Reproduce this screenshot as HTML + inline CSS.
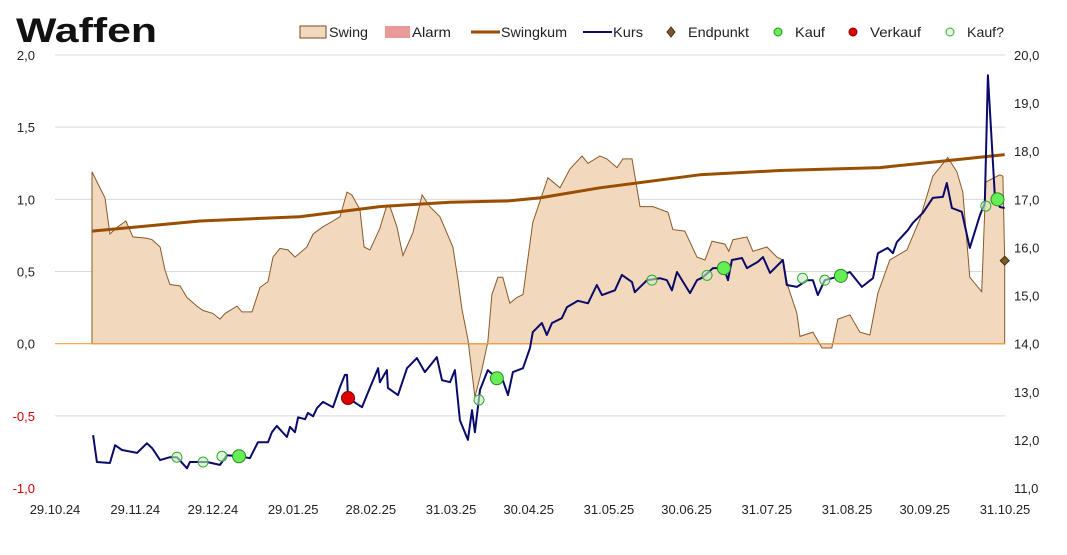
<!DOCTYPE html>
<html><head><meta charset="utf-8">
<style>
body{margin:0;background:#fff;}
svg{display:block;font-family:"Liberation Sans",sans-serif;}
</style></head>
<body>
<svg id="chart" width="1067" height="555" viewBox="0 0 1067 555" xmlns="http://www.w3.org/2000/svg">
<text x="16" y="42" font-size="34" font-weight="bold" fill="#111" textLength="141" lengthAdjust="spacingAndGlyphs">Waffen</text>
<g id="legend" font-size="14" fill="#222">
  <g><rect x="300" y="26" width="26" height="12" fill="#f2d8bd" stroke="#7a4a1a"/><text x="329" y="37" textLength="39" lengthAdjust="spacingAndGlyphs">Swing</text></g>
  <g><rect x="385" y="26" width="25" height="12" fill="#e89a9a"/><text x="412" y="37" textLength="39" lengthAdjust="spacingAndGlyphs">Alarm</text></g>
  <g><line x1="471" y1="32" x2="500" y2="32" stroke="#9a4e00" stroke-width="3"/><text x="501" y="37" textLength="66" lengthAdjust="spacingAndGlyphs">Swingkum</text></g>
  <g><line x1="583" y1="32" x2="612" y2="32" stroke="#0a0a6a" stroke-width="2"/><text x="613" y="37" textLength="30" lengthAdjust="spacingAndGlyphs">Kurs</text></g>
  <g><path d="M671,27 L675,32 L671,37 L667,32Z" fill="#7a5a2a" stroke="#4a2a0a"/><text x="688" y="37" textLength="61" lengthAdjust="spacingAndGlyphs">Endpunkt</text></g>
  <g><circle cx="778" cy="32" r="4" fill="#66ee55" stroke="#2a8a2a"/><text x="795" y="37" textLength="30" lengthAdjust="spacingAndGlyphs">Kauf</text></g>
  <g><circle cx="853" cy="32" r="4" fill="#e00000" stroke="#800"/><text x="870" y="37" textLength="51" lengthAdjust="spacingAndGlyphs">Verkauf</text></g>
  <g><circle cx="950" cy="32" r="4" fill="#e8f8e0" stroke="#33aa33"/><text x="967" y="37" textLength="37" lengthAdjust="spacingAndGlyphs">Kauf?</text></g>
</g>
<g id="grid"></g>
<g id="axes"></g>
<g id="series"></g>
</svg>
<script>
const xTickLabels=["29.10.24","29.11.24","29.12.24","29.01.25","28.02.25","31.03.25","30.04.25","31.05.25","30.06.25","31.07.25","31.08.25","30.09.25","31.10.25"];
const xTickDays=[0,31,61,92,122,153,183,214,244,275,306,336,367];
const leftTicks=[-1,-0.5,0,0.5,1,1.5,2];
const rightTicks=[11,12,13,14,15,16,17,18,19,20];
const swingDays=[14.3,14.3,19.3,21.2,24.3,27.4,30.1,35.5,37.5,40.6,42.5,44.4,48.3,51,54.8,57.2,61,63.7,65.7,70.3,72.2,76.1,79.2,82.3,84.2,86.9,90,92.7,97.3,99.7,103.5,107.4,110.1,112.8,114.7,117.8,119.4,121.7,125.5,128.2,129.4,132.1,134.4,138.3,141.8,144.8,148.7,153.7,155.7,157.2,159.5,162.2,164.9,167.2,168.8,171.1,173,175.7,178.4,180.8,184.6,190.4,195.1,198.9,203.6,205.9,210.5,213.2,217.1,219.4,222.9,226,231,236.8,238.7,243.3,248,251.1,253.8,258.8,260.3,261.9,267.3,269.6,275,278.9,281.2,283.1,286.6,287.8,292.8,296.3,300.1,302.4,307.1,310.9,314.8,317.9,322.5,329.1,334.1,339.1,344.9,348.4,350.7,353.4,358,359.6,365,366.2,366.9,366.9];
const swingValues=[0,1.19,1.01,0.76,0.81,0.85,0.74,0.73,0.72,0.67,0.51,0.41,0.40,0.32,0.26,0.23,0.21,0.17,0.21,0.26,0.22,0.22,0.39,0.43,0.60,0.66,0.65,0.60,0.67,0.76,0.81,0.85,0.88,1.05,1.03,0.93,0.67,0.65,0.80,0.96,0.95,0.81,0.61,0.77,1.03,0.95,0.88,0.67,0.44,0.24,0.03,-0.37,-0.18,0.01,0.34,0.46,0.46,0.28,0.32,0.34,0.84,1.15,1.08,1.21,1.30,1.25,1.30,1.28,1.22,1.28,1.28,0.95,0.95,0.91,0.79,0.78,0.60,0.58,0.71,0.69,0.64,0.72,0.74,0.64,0.67,0.60,0.58,0.40,0.21,0.05,0.08,-0.03,-0.03,0.17,0.20,0.08,0.06,0.35,0.58,0.65,0.86,1.16,1.29,1.19,1.05,0.46,0.36,1.12,1.17,1.16,0.58,0];
const kumDays=[14.3,56,94.5,125.5,152.6,175.7,187.3,210.5,249,280,318.7,345.7,366.9];
const kumValues=[0.78,0.85,0.88,0.95,0.98,0.99,1.01,1.08,1.17,1.20,1.22,1.27,1.31];
const kursDays=[14.7,16.2,21.2,23.2,25.9,29.7,31.7,35.5,37.5,40.6,44.4,47.1,51,52.1,58.7,63.7,66.4,71.1,75.3,78.4,82.3,83.8,85.7,89.6,90.8,92.7,93.9,96.6,97.7,99.7,101.2,103.5,107.4,110.1,112,112.8,113.2,118.6,120.5,124.8,125.5,128.2,128.6,132.5,136,139.8,142.9,147.5,149.5,152.6,154.5,156.4,159.5,161.1,162.2,164.2,167.2,170.7,173,175,176.9,180.8,183.5,184.6,188.1,190,192,195.8,197.8,202,205.9,209.3,211.3,216.3,219,222.9,224,228.7,233.7,236.4,238.3,240.3,245.3,248,250.3,254.2,258.4,260,261.5,265.4,267.3,271.5,273.5,276.2,281.2,282.7,286.6,290.5,292.8,294.7,297.4,303.6,307.1,311.7,316,317.9,321.7,323.7,325.2,329.5,331.4,335.3,339.1,343,344.5,346.5,350.3,353.4,357.3,359.2,360.4,363.1,365,366.9];
const kursValues=[12.10,11.54,11.52,11.89,11.79,11.75,11.73,11.93,11.83,11.58,11.64,11.64,11.41,11.54,11.54,11.48,11.68,11.66,11.62,11.95,11.95,12.16,12.29,12.06,12.27,12.16,12.47,12.43,12.56,12.49,12.66,12.79,12.68,13.10,13.35,13.35,12.87,12.68,12.93,13.49,13.20,13.45,13.08,12.93,13.49,13.70,13.41,13.72,13.24,13.20,13.45,12.41,12.00,12.62,12.16,13.04,13.45,13.28,13.24,12.93,13.41,13.49,13.91,14.24,14.43,14.18,14.43,14.53,14.76,14.89,14.84,15.22,15.01,15.11,15.43,15.28,15.07,15.32,15.36,15.32,15.11,15.49,15.05,15.32,15.38,15.57,15.57,15.32,15.74,15.78,15.57,15.70,15.80,15.47,15.74,15.22,15.18,15.32,15.32,15.01,15.32,15.41,15.49,15.18,15.36,15.88,15.99,15.88,16.11,16.36,16.51,16.72,17.03,17.05,17.34,16.82,16.74,15.99,16.67,16.92,19.58,17.05,16.84,16.82];
const kaufDays=[71.1,170.7,258.4,303.6,364.1];
const kaufValues=[11.66,13.28,15.57,15.41,17.0];
const kaufQDays=[47.1,57.2,64.5,163.8,230.6,251.9,288.8,297.4,359.6];
const kaufQValues=[11.64,11.54,11.66,12.83,15.32,15.42,15.36,15.32,16.86];
const verkaufDays=[113.2];
const verkaufValues=[12.87];
const endDays=[366.9];
const endValues=[0.575];

const NS="http://www.w3.org/2000/svg";
const X0=55,X1=1005,D1=367,YT=55,YB=488;
const xS=d=>X0+(X1-X0)*d/D1;
const yL=v=>YB-(v+1)/3*(YB-YT);
const yR=v=>YB-(v-11)/9*(YB-YT);
function mk(tag,attrs,parent){const e=document.createElementNS(NS,tag);for(const k in attrs)e.setAttribute(k,attrs[k]);parent.appendChild(e);return e;}
const grid=document.getElementById('grid'),axes=document.getElementById('axes'),ser=document.getElementById('series');
const fmt=v=>v.toFixed(1).replace('.',',');
leftTicks.forEach(v=>{
  if(v!==0&&v!==-1){const g=mk('line',{x1:X0,x2:X1,y1:yL(v),y2:yL(v),stroke:'#d9d9d9','stroke-width':1},grid);
  
  }
  const t=mk('text',{x:35,y:yL(v)+5,'font-size':13,'text-anchor':'end',fill:v<0?'#d00000':'#222'},axes);
  t.textContent=fmt(v);
  
  
});
rightTicks.forEach(v=>{
  const t=mk('text',{x:1014,y:yR(v)+5,'font-size':13,fill:'#222'},axes);
  t.textContent=fmt(v);
  
  
});
xTickLabels.forEach((l,i)=>{
  const t=mk('text',{x:xS(xTickDays[i]),y:514,'font-size':13,'text-anchor':'middle',fill:'#222'},axes);
  t.textContent=l;
  
  
});
let d='';swingDays.forEach((x,i)=>{d+=(i?'L':'M')+xS(x).toFixed(1)+','+yL(swingValues[i]).toFixed(1);});
const area=mk('path',{d:d+'Z',fill:'#f2d8bd',stroke:'#8a5a2a','stroke-width':1},ser);


const zl=mk('line',{x1:X0,x2:X1,y1:yL(0),y2:yL(0),stroke:'#f5a040','stroke-width':1.2},ser);


function line(days,vals,sc,col,w,name){
  const p=days.map((x,i)=>xS(x).toFixed(1)+','+sc(vals[i]).toFixed(1)).join(' ');
  const e=mk('polyline',{points:p,fill:'none',stroke:col,'stroke-width':w,'stroke-linejoin':'round'},ser);
  
  
}
line(kumDays,kumValues,yL,'#9a4e00',3,'swingkum-line');
line(kursDays,kursValues,yR,'#0a0a6a',2,'kurs-line');
kaufQDays.forEach((x,i)=>{
  const c=mk('circle',{cx:xS(x),cy:yR(kaufQValues[i]),r:5,fill:'rgba(200,240,190,0.6)',stroke:'#33aa33','stroke-width':1},ser);
  
  
});
kaufDays.forEach((x,i)=>{
  const c=mk('circle',{cx:xS(x),cy:yR(kaufValues[i]),r:6.5,fill:'#66ee55',stroke:'#2a8a2a','stroke-width':1},ser);
  
  
});
verkaufDays.forEach((x,i)=>{
  const c=mk('circle',{cx:xS(x),cy:yR(verkaufValues[i]),r:6.5,fill:'#e00000',stroke:'#700','stroke-width':1},ser);
  
  
});
endDays.forEach((x,i)=>{
  const cx=xS(x),cy=yL(endValues[i]);
  const e=mk('path',{d:`M${cx},${cy-4.5} L${cx+4.5},${cy} L${cx},${cy+4.5} L${cx-4.5},${cy}Z`,fill:'#7a5a2a',stroke:'#4a2a0a'},ser);
  
  
});
</script>
</body></html>
